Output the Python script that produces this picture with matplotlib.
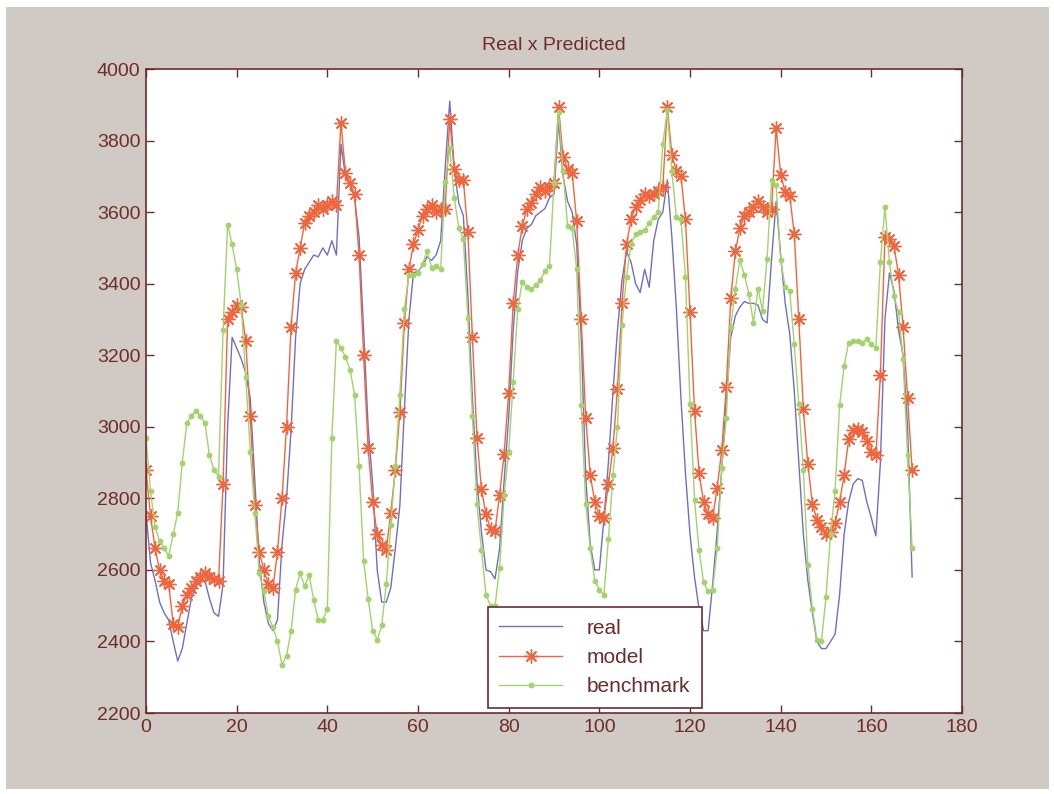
import matplotlib
matplotlib.use("Agg")
import matplotlib.pyplot as plt
from matplotlib.patches import Rectangle
import numpy as np

# Hourly series, x = 0..169
real = [2760, 2620, 2570, 2510, 2480, 2460, 2400, 2345, 2380, 2450,
        2520, 2555, 2570, 2570, 2520, 2480, 2470, 2560, 3000, 3250,
        3220, 3190, 3150, 3080, 2850, 2620, 2510, 2450, 2430, 2460,
        2670, 2800, 2990, 3250, 3400, 3440, 3460, 3480, 3475, 3500,
        3480, 3520, 3480, 3790, 3700, 3680, 3640, 3530, 3270, 3000,
        2840, 2600, 2510, 2510, 2550, 2660, 2780, 3050, 3300, 3430,
        3435, 3450, 3475, 3465, 3480, 3520, 3725, 3910, 3720, 3625,
        3590, 3370, 3080, 2850, 2705, 2600, 2595, 2575, 2660, 2850,
        3025, 3270, 3435, 3520, 3555, 3565, 3590, 3600, 3610, 3640,
        3650, 3855, 3700, 3630, 3600, 3510, 3250, 2860, 2670, 2600,
        2600, 2740, 2900, 3095, 3270, 3410, 3490, 3460, 3400, 3375,
        3440, 3390, 3520, 3580, 3600, 3690, 3530, 3330, 3080, 2870,
        2700, 2580, 2490, 2430, 2430, 2560, 2710, 2880, 3080, 3250,
        3310, 3335, 3350, 3345, 3345, 3340, 3300, 3290, 3470, 3630,
        3480, 3345, 3260, 3100, 2900, 2700, 2570, 2480, 2400, 2380,
        2380, 2400, 2420, 2530, 2700, 2790, 2840, 2855, 2850, 2790,
        2745, 2695, 2900, 3300, 3430, 3380, 3270, 3200, 3000, 2580]

model = [2880, 2750, 2660, 2600, 2570, 2560, 2450, 2440, 2500, 2530,
         2550, 2570, 2580, 2590, 2580, 2575, 2570, 2840, 3300, 3320,
         3340, 3335, 3240, 3030, 2780, 2650, 2600, 2560, 2550, 2650,
         2800, 3000, 3280, 3430, 3500, 3570, 3590, 3600, 3620, 3610,
         3620, 3630, 3620, 3850, 3710, 3680, 3650, 3480, 3200, 2940,
         2790, 2700, 2670, 2655, 2760, 2880, 3040, 3290, 3440, 3510,
         3550, 3590, 3610, 3620, 3600, 3610, 3610, 3860, 3720, 3690,
         3690, 3545, 3250, 2970, 2825, 2755, 2715, 2710, 2810, 2925,
         3095, 3345, 3480, 3560, 3610, 3625, 3650, 3670, 3660, 3670,
         3680, 3895, 3755, 3720, 3710, 3575, 3300, 3025, 2865, 2790,
         2750, 2745, 2840, 2940, 3105, 3345, 3510, 3580, 3615, 3635,
         3650, 3645, 3650, 3660, 3670, 3895, 3760, 3715, 3700, 3580,
         3320, 3045, 2870, 2790, 2755, 2745, 2830, 2935, 3110, 3360,
         3490, 3555, 3590, 3600, 3615, 3630, 3615, 3600, 3610, 3835,
         3705, 3655, 3645, 3540, 3300, 3050, 2895, 2785, 2740, 2720,
         2700, 2705, 2730, 2790, 2865, 2965, 2990, 2995, 2985, 2960,
         2930, 2920, 3145, 3530, 3525, 3505, 3425, 3280, 3080, 2880]

benchmark = [2970, 2820, 2720, 2680, 2660, 2640, 2700, 2760, 2900, 3010,
             3030, 3045, 3030, 3010, 2920, 2880, 2860, 3270, 3565, 3510,
             3440, 3340, 3140, 2930, 2760, 2590, 2540, 2470, 2440, 2400,
             2335, 2360, 2430, 2545, 2590, 2555, 2585, 2515, 2460, 2460,
             2490, 2970, 3240, 3220, 3195, 3160, 3090, 2890, 2625, 2520,
             2430, 2405, 2445, 2560, 2725, 2890, 3090, 3330, 3425, 3425,
             3430, 3455, 3490, 3445, 3450, 3440, 3685, 3780, 3640, 3555,
             3525, 3305, 3030, 2785, 2655, 2530, 2500, 2500, 2605, 2810,
             2930, 3125, 3330, 3405, 3390, 3385, 3395, 3410, 3435, 3450,
             3680, 3880, 3715, 3560, 3555, 3440, 3060, 2785, 2660, 2570,
             2545, 2530, 2685, 2865, 3000, 3285, 3420, 3510, 3540, 3545,
             3550, 3570, 3585, 3600, 3790, 3885, 3715, 3585, 3580, 3420,
             3065, 2795, 2655, 2565, 2540, 2545, 2660, 2885, 3025, 3280,
             3385, 3465, 3425, 3370, 3290, 3385, 3325, 3470, 3690, 3675,
             3465, 3390, 3380, 3230, 3065, 2880, 2615, 2490, 2405, 2400,
             2525, 2700, 2820, 3060, 3170, 3235, 3240, 3240, 3235, 3245,
             3230, 3220, 3460, 3615, 3460, 3365, 3320, 3190, 2920, 2660]

x_ticks = [0, 20, 40, 60, 80, 100, 120, 140, 160, 180]
y_ticks = [2200, 2400, 2600, 2800, 3000, 3200, 3400, 3600, 3800, 4000]

hours = np.arange(len(real))

BG = "#D1CAC4"
AXC = "#6E2B2E"
C_REAL = "#6F6FC4"
C_MODEL = "#F2653C"
C_BENCH = "#A2D36C"

plt.rcParams["font.family"] = ["Liberation Sans", "DejaVu Sans"]

fig = plt.figure(figsize=(10.54, 7.94), dpi=100, facecolor="white")
fig.patches.append(Rectangle((6 / 1054, 5 / 794), 1043 / 1054, 782 / 794,
                             transform=fig.transFigure, facecolor=BG,
                             edgecolor="none", zorder=-10))

ax = fig.add_axes([146 / 1054, 1 - 713 / 794, 816 / 1054, 644 / 794])
ax.set_facecolor("white")

ax.plot(hours, real, color=C_REAL, lw=1.0, label="real")
ax.plot(hours, model, color=C_MODEL, lw=1.0, marker=(8, 2, 0), ms=10,
        mew=1.0, label="model")
ax.plot(hours, benchmark, color=C_BENCH, lw=1.0, marker="o", ms=3.2,
        mec=C_BENCH, mfc=C_BENCH, label="benchmark")

ax.set_xlim(0, 180)
ax.set_ylim(2200, 4000)
ax.set_xticks(x_ticks)
ax.set_yticks(y_ticks)
ax.tick_params(direction="in", top=True, right=True, length=6, width=1,
               colors=AXC, labelsize=14, pad=4)
for s in ax.spines.values():
    s.set_color(AXC)
    s.set_linewidth(1.2)

ax.set_title("Real x Predicted", color=AXC, fontsize=14, pad=14)

leg = ax.legend(loc="lower left", bbox_to_anchor=(0.419, 0.008),
                fontsize=15, fancybox=False, framealpha=1,
                edgecolor=AXC, handlelength=3.0, handletextpad=1.2,
                borderpad=0.55, labelspacing=0.5, borderaxespad=0)
leg.get_frame().set_linewidth(1.2)
for t in leg.get_texts():
    t.set_color(AXC)

fig.savefig("out.png", dpi=100, facecolor=fig.get_facecolor())
